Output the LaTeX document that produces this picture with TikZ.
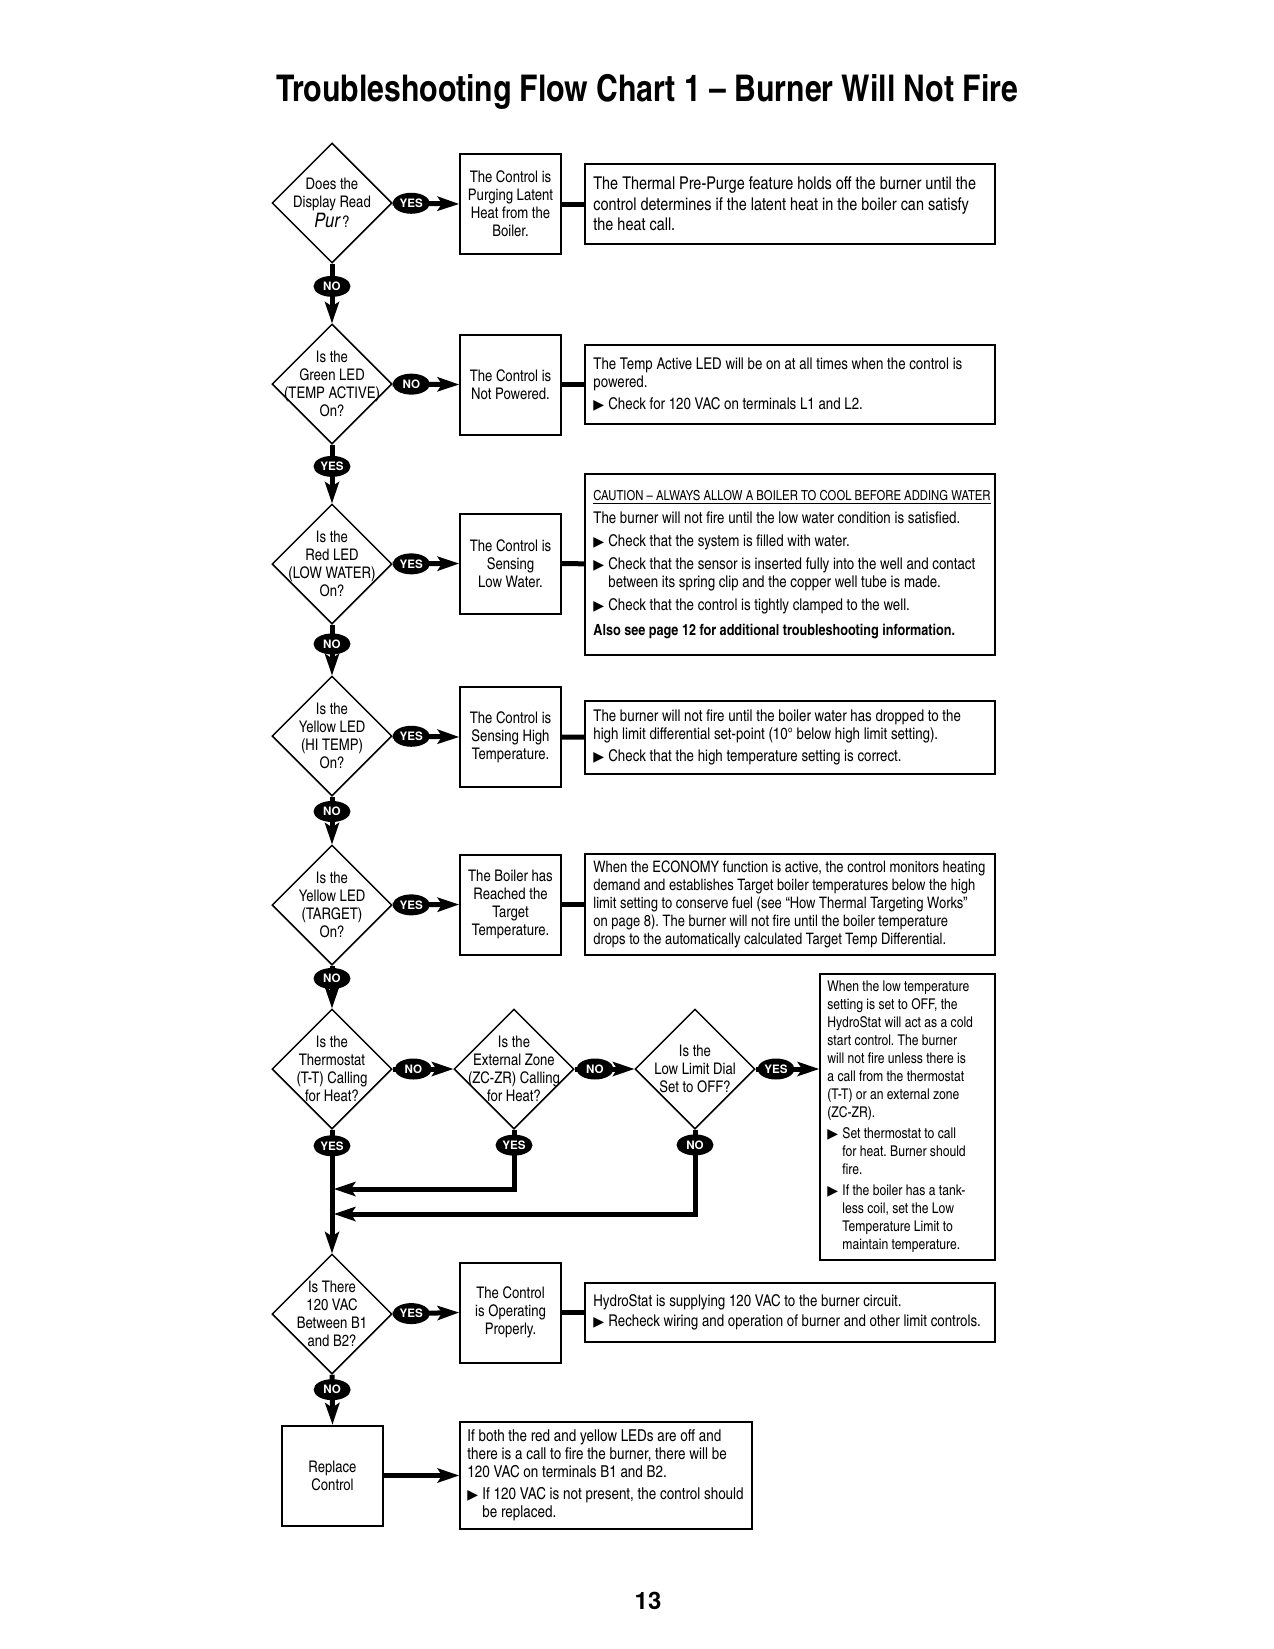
\documentclass[tikz,border=0pt]{standalone}
\usepackage{fontspec}
\setmainfont{texgyreheroscn}[Extension=.otf,UprightFont=*-regular,BoldFont=*-bold,ItalicFont=*-italic,BoldItalicFont=*-bolditalic]
\newfontfamily\heros{texgyreheros}[Extension=.otf,UprightFont=*-regular,BoldFont=*-bold]
\newfontfamily\dejavu{DejaVu Sans}
\usetikzlibrary{shapes.geometric,arrows.meta}
\frenchspacing
\newcommand\bul{\makebox[7.5pt][l]{\dejavu\fontsize{7}{7}\selectfont ▶}}
\newcommand\hng{\hspace*{7.5pt}}
\tikzset{
  ask/.style={diamond,draw,line width=0.75pt,minimum width=60pt,minimum height=60pt,inner sep=0pt,
    label={[font=\fontsize{8}{9}\selectfont,align=center]center:{#1}}},
  act/.style={draw,line width=1pt,minimum width=50.5pt,minimum height=50pt,inner sep=0pt,align=center,font=\fontsize{8}{9}\selectfont},
  note/.style={draw,line width=1pt,inner sep=0pt},
  notetxt/.style={anchor=west,align=left,inner sep=0pt,font=\fontsize{8.1}{9}\selectfont},
  tag/.style={ellipse,fill=black,text=white,inner sep=0pt,minimum width=18.5pt,minimum height=10.5pt,font=\heros\bfseries\fontsize{5.8}{5.8}\selectfont},
  flow/.style={line width=2.5pt,-{Stealth[length=11pt,width=7.5pt,inset=2.5pt,line width=0pt]}},
  link/.style={line width=2.5pt},
}
\begin{document}
\begin{tikzpicture}[x=0.5pt,y=-0.5pt]
  \useasboundingbox (0,0) rectangle (1274,1649);
  \node[font=\bfseries\fontsize{18.4}{18.4}\selectfont] (title) at (647,92) {Troubleshooting Flow Chart 1 -- Burner Will Not Fire};
  \node[font=\heros\bfseries\fontsize{12}{12}\selectfont] (page) at (648,1601) {13};

  \node[every label/.append style={yshift=-2.5pt},ask={Does the\\Display Read\\[1pt]{\fontsize{10}{10}\selectfont\itshape Pur}\,?}] (q1) at (332,203) {};
  \node[ask={Is the\\Green LED\\(TEMP ACTIVE)\\On?}] (q2) at (332,384) {};
  \node[ask={Is the\\Red LED\\(LOW WATER)\\On?}] (q3) at (332,564) {};
  \node[ask={Is the\\Yellow LED\\(HI TEMP)\\On?}] (q4) at (332,736) {};
  \node[ask={Is the\\Yellow LED\\(TARGET)\\On?}] (q5) at (332,905) {};
  \node[ask={Is the\\Thermostat\\(T-T) Calling\\for Heat?}] (q6) at (332,1069) {};
  \node[ask={Is the\\External Zone\\(ZC-ZR) Calling\\for Heat?}] (q7) at (514,1069) {};
  \node[ask={Is the\\Low Limit Dial\\Set to OFF?}] (q8) at (695,1069) {};
  \node[ask={Is There\\120 VAC\\Between B1\\and B2?}] (q9) at (332,1314) {};

  \node[act] (c1) at (510.5,204) {The Control is\\Purging Latent\\Heat from the\\Boiler.};
  \node[act] (c2) at (510.5,384.5) {The Control is\\Not Powered.};
  \node[act] (c3) at (510.5,563.5) {The Control is\\Sensing\\Low Water.};
  \node[act] (c4) at (510.5,737) {The Control is\\Sensing High\\Temperature.};
  \node[act] (c5) at (510.5,904.5) {The Boiler has\\Reached the\\Target\\Temperature.};
  \node[act] (c9) at (510.5,1312.5) {The Control\\is Operating\\Properly.};
  \node[act] (rep) at (332.5,1475.5) {Replace\\Control};

  \node[note,minimum width=205pt,minimum height=40pt] (n1) at (790,204) {};
  \node[note,minimum width=205pt,minimum height=39.5pt] (n2) at (790,384.5) {};
  \node[note,minimum width=205pt,minimum height=90.5pt] (n3) at (790,564.5) {};
  \node[note,minimum width=205pt,minimum height=36.5pt] (n4) at (790,737.5) {};
  \node[note,minimum width=205pt,minimum height=50.5pt] (n5) at (790,904.5) {};
  \node[note,minimum width=87.5pt,minimum height=143pt] (n8) at (907.5,1117) {};
  \node[note,minimum width=205pt,minimum height=29.5pt] (n9) at (790,1312.5) {};
  \node[note,minimum width=146pt,minimum height=53.5pt] (n10) at (606,1475.5) {};

  \node[notetxt,font=\fontsize{8.8}{10.2}\selectfont] (t1) at ([xshift=4.5pt]n1.west)
    {The Thermal Pre-Purge feature holds off the burner until the\\
     control determines if the latent heat in the boiler can satisfy\\
     the heat call.};
  \node[notetxt] (t2) at ([xshift=4.5pt]n2.west)
    {The Temp Active LED will be on at all times when the control is\\
     powered.\\[2pt]
     \bul Check for 120 VAC on terminals L1 and L2.};
  \node[notetxt] (t3) at ([xshift=4.5pt]n3.west)
    {{\fontsize{6.9}{9}\selectfont\underline{CAUTION -- ALWAYS ALLOW A BOILER TO COOL BEFORE ADDING WATER}}\\[2.5pt]
     The burner will not fire until the low water condition is satisfied.\\[2.5pt]
     \bul Check that the system is filled with water.\\[2.5pt]
     \bul Check that the sensor is inserted fully into the well and contact\\
     \hng between its spring clip and the copper well tube is made.\\[2.5pt]
     \bul Check that the control is tightly clamped to the well.\\[3.5pt]
     {\bfseries\fontsize{7.7}{9}\selectfont Also see page 12 for additional troubleshooting information.}};
  \node[notetxt] (t4) at ([xshift=4.5pt]n4.west)
    {The burner will not fire until the boiler water has dropped to the\\
     high limit differential set-point (10° below high limit setting).\\[2pt]
     \bul Check that the high temperature setting is correct.};
  \node[notetxt,font=\fontsize{7.9}{9}\selectfont] (t5) at ([xshift=4.5pt]n5.west)
    {When the ECONOMY function is active, the control monitors heating\\
     demand and establishes Target boiler temperatures below the high\\
     limit setting to conserve fuel (see “How Thermal Targeting Works”\\
     on page 8). The burner will not fire until the boiler temperature\\
     drops to the automatically calculated Target Temp Differential.};
  \node[notetxt,font=\fontsize{7.4}{9}\selectfont] (t8) at ([xshift=4pt]n8.west)
    {When the low temperature\\
     setting is set to OFF, the\\
     HydroStat will act as a cold\\
     start control. The burner\\
     will not fire unless there is\\
     a call from the thermostat\\
     (T-T) or an external zone\\
     (ZC-ZR).\\[1.5pt]
     \bul Set thermostat to call\\
     \hng for heat. Burner should\\
     \hng fire.\\[1.5pt]
     \bul If the boiler has a tank-\\
     \hng less coil, set the Low\\
     \hng Temperature Limit to\\
     \hng maintain temperature.};
  \node[notetxt] (t9) at ([xshift=4.5pt]n9.west)
    {HydroStat is supplying 120 VAC to the burner circuit.\\[1pt]
     \bul Recheck wiring and operation of burner and other limit controls.};
  \node[notetxt,font=\fontsize{8.2}{9}\selectfont] (t10) at ([xshift=4pt]n10.west)
    {If both the red and yellow LEDs are off and\\
     there is a call to fire the burner, there will be\\
     120 VAC on terminals B1 and B2.\\[2pt]
     \bul If 120 VAC is not present, the control should\\
     \hng be replaced.};

  \coordinate (j1) at (332,1189);
  \coordinate (j2) at (332,1214);

  \begin{scope}[flow]
    \draw (q1.east) -- node[tag,pos=.28] {YES} (c1.west);
    \draw (q2.east) -- node[tag,pos=.28] {NO} (c2.west);
    \draw (q3.east) -- node[tag,pos=.28] {YES} (c3.west);
    \draw (q4.east) -- node[tag,pos=.28] {YES} (c4.west);
    \draw (q5.east) -- node[tag,pos=.28] {YES} (c5.west);
    \draw (q6.east) -- node[tag,pos=.34] {NO} (q7.west);
    \draw (q7.east) -- node[tag,pos=.34] {NO} (q8.west);
    \draw (q8.east) -- node[tag,pos=.32] {YES} (q8.east -| n8.west);
    \draw (q9.east) -- node[tag,pos=.28] {YES} (c9.west);
    \draw (q1.south) -- node[tag,pos=.38] {NO} (q2.north);
    \draw (q2.south) -- node[tag,pos=.37] {YES} (q3.north);
    \draw (q3.south) -- node[tag,pos=.38] {NO} (q4.north);
    \draw (q4.south) -- node[tag,pos=.31] {NO} (q5.north);
    \draw (q5.south) -- node[tag,pos=.3] {NO} (q6.north);
    \draw (q6.south) -- node[tag,pos=.13] {YES} (q9.north);
    \draw (q9.south) -- node[tag,pos=.3] {NO} (rep.north);
    \draw[shorten >=1pt] (q7.south) |- node[tag,pos=.13] {YES} (j1);
    \draw[shorten >=1pt] (q8.south) |- node[tag,pos=.09] {NO} (j2);
    \draw (rep) -- (n10);
  \end{scope}
  \begin{scope}[link]
    \draw (c1) -- (n1);
    \draw (c2) -- (n2);
    \draw (c3) -- (n3);
    \draw (c4) -- (n4);
    \draw (c5) -- (n5);
    \draw (c9) -- (n9);
  \end{scope}
\end{tikzpicture}
\end{document}
